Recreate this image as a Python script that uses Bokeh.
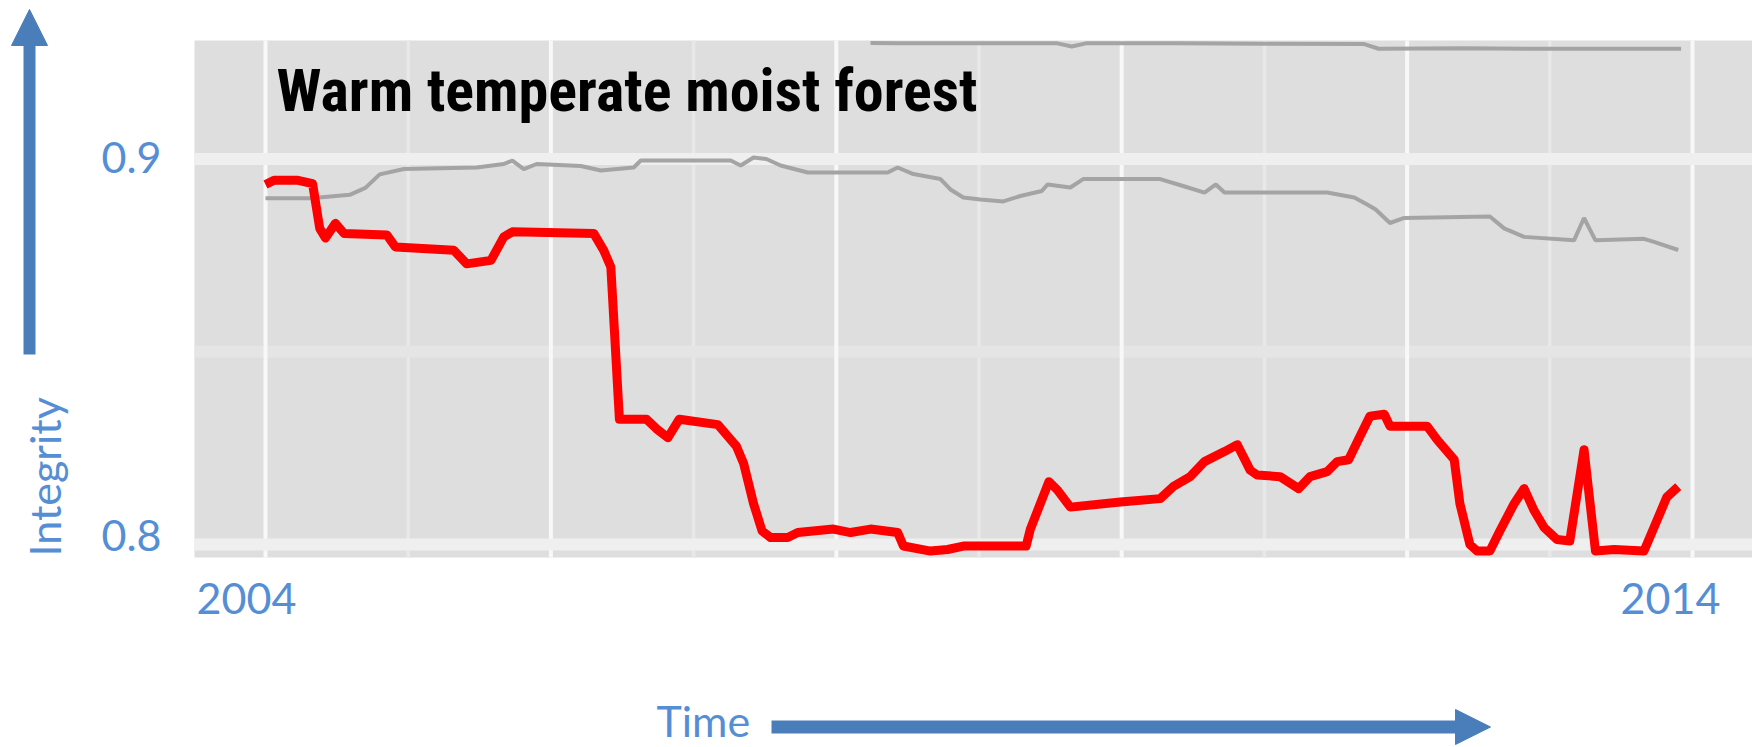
from math import pi
from bokeh.plotting import figure
from bokeh.models import Range1d
from bokeh.core.properties import value
from bokeh.embed import file_html
from bokeh.resources import INLINE

# ---------------- data ----------------
title_text = "Warm temperate moist forest"
x_label = "Time"
y_label = "Integrity"
x_ticks = [2004, 2014]
x_tick_labels = ["2004", "2014"]
y_ticks = [0.8, 0.9]
y_tick_labels = ["0.8", "0.9"]
x_major_grid = [2004, 2006, 2008, 2010, 2012, 2014]
x_minor_grid = [2005, 2007, 2009, 2011, 2013]
y_major_grid = [0.8, 0.9]
y_minor_grid = [0.85]

red_years = [2004.00, 2004.06, 2004.22, 2004.33, 2004.38, 2004.42, 2004.49, 2004.55, 2004.85, 2004.91,
             2005.32, 2005.41, 2005.58, 2005.67, 2005.73, 2006.30, 2006.37, 2006.42, 2006.48, 2006.67,
             2006.74, 2006.82, 2006.90, 2007.17, 2007.23, 2007.30, 2007.35, 2007.42, 2007.48, 2007.54,
             2007.66, 2007.73, 2007.98, 2008.10, 2008.24, 2008.43, 2008.47, 2008.66, 2008.78, 2008.89,
             2009.33, 2009.36, 2009.49, 2009.55, 2009.64, 2009.99, 2010.27, 2010.36, 2010.48, 2010.58,
             2010.72, 2010.81, 2010.90, 2010.95, 2011.11, 2011.24, 2011.32, 2011.44, 2011.51, 2011.59,
             2011.67, 2011.74, 2011.84, 2011.88, 2012.14, 2012.21, 2012.33, 2012.37, 2012.44, 2012.49,
             2012.58, 2012.65, 2012.75, 2012.82, 2012.89, 2012.96, 2013.05, 2013.14, 2013.24, 2013.32,
             2013.45, 2013.66, 2013.73, 2013.82, 2013.90]
red_values = [0.8934, 0.8945, 0.8945, 0.8936, 0.8820, 0.8795, 0.8833, 0.8807, 0.8803, 0.8772,
              0.8763, 0.8728, 0.8737, 0.8798, 0.8811, 0.8807, 0.8763, 0.8720, 0.8325, 0.8325,
              0.8300, 0.8277, 0.8325, 0.8311, 0.8285, 0.8255, 0.8211, 0.8106, 0.8035, 0.8018,
              0.8018, 0.8031, 0.8040, 0.8031, 0.8040, 0.8031, 0.7996, 0.7983, 0.7987, 0.7996,
              0.7996, 0.8040, 0.8163, 0.8141, 0.8097, 0.8110, 0.8119, 0.8150, 0.8176, 0.8215,
              0.8241, 0.8259, 0.8193, 0.8180, 0.8176, 0.8145, 0.8176, 0.8189, 0.8215, 0.8220,
              0.8281, 0.8333, 0.8338, 0.8307, 0.8307, 0.8272, 0.8220, 0.8106, 0.8000, 0.7983,
              0.7983, 0.8035, 0.8106, 0.8145, 0.8088, 0.8044, 0.8013, 0.8009, 0.8246, 0.7983,
              0.7987, 0.7983, 0.8044, 0.8123, 0.8150]

grey_years = [2004.00, 2004.32, 2004.59, 2004.70, 2004.80, 2004.97, 2005.48, 2005.67, 2005.73, 2005.81,
              2005.90, 2006.21, 2006.35, 2006.58, 2006.63, 2007.26, 2007.33, 2007.42, 2007.51, 2007.61,
              2007.80, 2008.36, 2008.43, 2008.54, 2008.73, 2008.80, 2008.89, 2009.01, 2009.17, 2009.29,
              2009.44, 2009.48, 2009.64, 2009.73, 2010.27, 2010.43, 2010.58, 2010.66, 2010.72, 2011.44,
              2011.63, 2011.72, 2011.78, 2011.88, 2011.98, 2012.58, 2012.68, 2012.82, 2013.17, 2013.24,
              2013.32, 2013.66, 2013.73, 2013.90]
grey_values = [0.8898, 0.8898, 0.8907, 0.8925, 0.8960, 0.8974, 0.8978, 0.8987, 0.8996, 0.8974,
               0.8987, 0.8982, 0.8970, 0.8978, 0.8996, 0.8996, 0.8983, 0.9004, 0.9000, 0.8983,
               0.8965, 0.8965, 0.8978, 0.8961, 0.8948, 0.8921, 0.8900, 0.8895, 0.8890, 0.8904,
               0.8917, 0.8934, 0.8926, 0.8948, 0.8948, 0.8930, 0.8913, 0.8934, 0.8913, 0.8913,
               0.8900, 0.8882, 0.8869, 0.8834, 0.8847, 0.8851, 0.8820, 0.8798, 0.8789, 0.8847,
               0.8789, 0.8793, 0.8785, 0.8764]

upper_years = [2008.24, 2008.45, 2009.00, 2009.55, 2009.65, 2009.75, 2010.40, 2011.00, 2011.70,
               2011.80, 2012.40, 2013.00, 2013.92]
upper_values = [0.9301, 0.9300, 0.9300, 0.9300, 0.9292, 0.9300, 0.9300, 0.9299, 0.9298,
                0.9286, 0.9287, 0.9286, 0.9286]

# ---------------- layout (page pixels) ----------------
W, H = 1752, 747
X2004_PX, PX_PER_YEAR = 265.0, 142.7
Y09_PX, PX_PER_UNIT = 158.5, 3855.0
BASE_FIX = 0.34  # em; the svg text sits this far below the requested baseline


def px2x(px):
    return 2004 + (px - X2004_PX) / PX_PER_YEAR


def px2y(py):
    return 0.9 - (py - Y09_PX) / PX_PER_UNIT


p = figure(width=W, height=H,
           x_range=Range1d(px2x(0), px2x(W)),
           y_range=Range1d(px2y(H), px2y(0)),
           min_border=0, toolbar_location=None, output_backend="svg",
           x_axis_location=None, y_axis_location=None, title=None)
p.grid.visible = False
p.outline_line_color = None
p.background_fill_color = "white"
p.border_fill_color = "white"

pan_l, pan_r = px2x(194), px2x(1752)
pan_b, pan_t = px2y(557), px2y(40)

# panel
p.quad(left=[pan_l], right=[pan_r], bottom=[pan_b], top=[pan_t],
       fill_color="#DEDEDE", line_color=None)

# grid
p.segment(x0=x_minor_grid, x1=x_minor_grid, y0=pan_b, y1=pan_t,
          line_color="#E8E8E8", line_width=3.5)
p.segment(x0=pan_l, x1=pan_r, y0=y_minor_grid, y1=y_minor_grid,
          line_color="#E5E5E5", line_width=12)
p.segment(x0=x_major_grid, x1=x_major_grid, y0=pan_b, y1=pan_t,
          line_color="#F8F8F8", line_width=4)
p.segment(x0=pan_l, x1=pan_r, y0=y_major_grid, y1=y_major_grid,
          line_color="#EFEFEF", line_width=12)

# series
p.line(upper_years, upper_values, line_color="#A4A4A4", line_width=4)
p.line(grey_years, grey_values, line_color="#A4A4A4", line_width=4)
p.line(red_years, red_values, line_color="#FF0000", line_width=9, line_join="round")

# title
TFS = 60
p.text(x=[px2x(276)], y=[px2y(110 - BASE_FIX * TFS)], text=[title_text],
       text_font=value("'Roboto Condensed', 'DejaVu Sans Condensed', 'Liberation Sans Narrow', 'Liberation Sans', sans-serif"),
       text_font_style="bold",
       text_font_size=f"{TFS}px", text_color="black",
       text_align="left", text_baseline="alphabetic")

BLUE_TXT = "#558ED5"
BLUE_ARR = "#4A7EBB"
FONT = value("Lato")
FSZ = 43
FS = f"{FSZ}px"
FIX = BASE_FIX * FSZ

# x tick labels
for tick, lab, off in zip(x_ticks, x_tick_labels, (-19, -22)):
    p.text(x=[tick], y=[px2y(613 - FIX)], text=[lab], x_offset=off,
           text_font=FONT, text_font_size=FS, text_color=BLUE_TXT,
           text_align="center", text_baseline="alphabetic")

# y tick labels
for tick, lab, off in zip(y_ticks, y_tick_labels, (6, 13.5)):
    y_px = Y09_PX + (0.9 - tick) * PX_PER_UNIT + off
    p.text(x=[px2x(161)], y=[px2y(y_px - FIX)], text=[lab],
           text_font=FONT, text_font_size=FS, text_color=BLUE_TXT,
           text_align="right", text_baseline="alphabetic")

# axis names
p.text(x=[px2x(59 - FIX)], y=[px2y(556)], text=[y_label], angle=pi / 2,
       text_font=FONT, text_font_size=FS, text_color=BLUE_TXT,
       text_align="left", text_baseline="alphabetic")
p.text(x=[px2x(656)], y=[px2y(735 - FIX)], text=[x_label],
       text_font=FONT, text_font_size=FS, text_color=BLUE_TXT,
       text_align="left", text_baseline="alphabetic")

# arrows
p.segment(x0=[px2x(29)], x1=[px2x(29)], y0=[px2y(354)], y1=[px2y(44)],
          line_color=BLUE_ARR, line_width=12, line_cap="butt")
p.patch(x=[px2x(29), px2x(11), px2x(47)], y=[px2y(9), px2y(45), px2y(45)],
        fill_color=BLUE_ARR, line_color=BLUE_ARR, line_width=1)

ty = 726.5
p.segment(x0=[px2x(771)], x1=[px2x(1457)], y0=[px2y(ty)], y1=[px2y(ty)],
          line_color=BLUE_ARR, line_width=13, line_cap="butt")
p.patch(x=[px2x(1455), px2x(1490), px2x(1455)], y=[px2y(ty - 17.5), px2y(ty), px2y(ty + 17.5)],
        fill_color=BLUE_ARR, line_color=BLUE_ARR, line_width=1)

open("out.html", "w").write(file_html(p, INLINE))
